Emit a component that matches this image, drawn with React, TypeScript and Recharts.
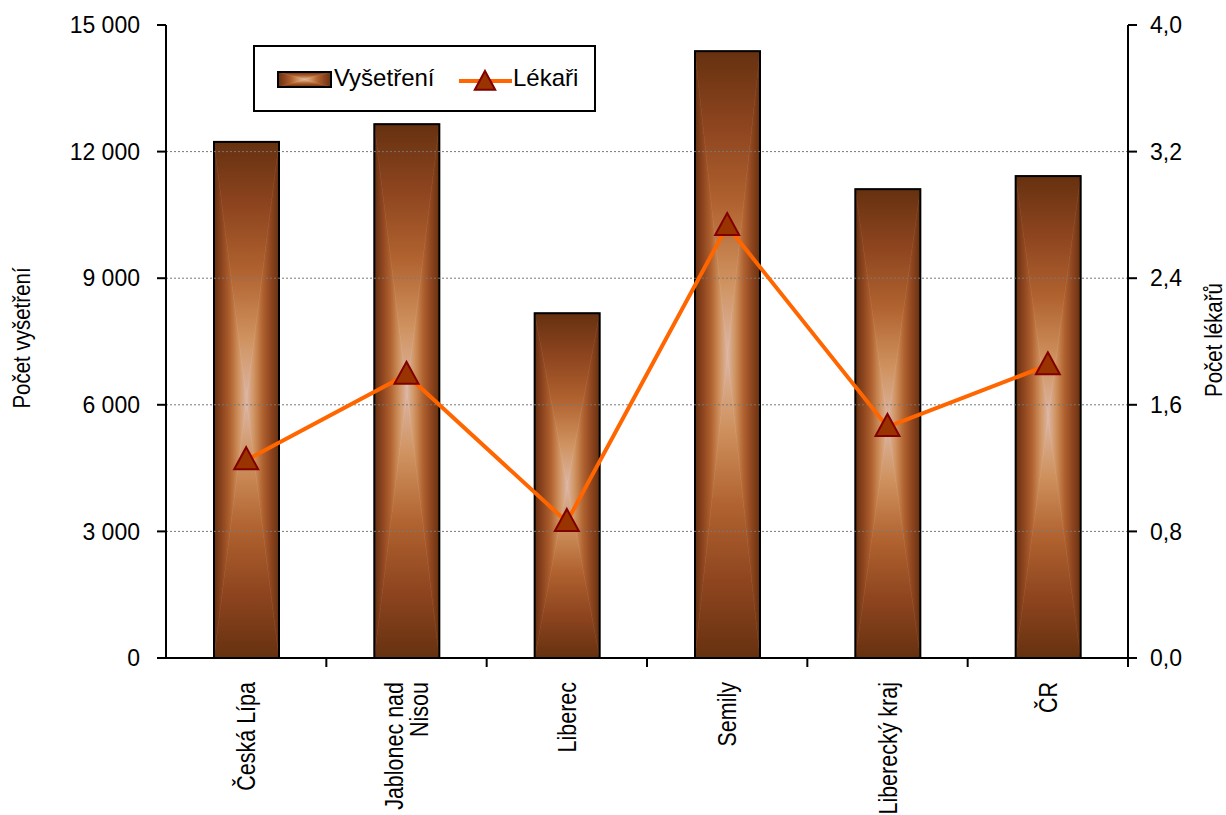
import React from 'react';
import { ComposedChart, Bar, Line, XAxis, YAxis, ReferenceLine } from 'recharts';

const categories = ['Česká Lípa', 'Jablonec nad Nisou', 'Liberec', 'Semily', 'Liberecký kraj', 'ČR'];
const categoryLines = [['Česká Lípa'], ['Jablonec nad', 'Nisou'], ['Liberec'], ['Semily'], ['Liberecký kraj'], ['ČR']];
const vysetreni = [12230, 12650, 8170, 14380, 11110, 11420];
const lekari = [1.25, 1.79, 0.86, 2.73, 1.46, 1.85];
const leftTicks = [0, 3000, 6000, 9000, 12000, 15000];
const rightTicks = [0, 0.8, 1.6, 2.4, 3.2, 4.0];
const gridValues = [3000, 6000, 9000, 12000];

const data = categories.map((name, i) => ({ name, vysetreni: vysetreni[i], lekari: lekari[i] }));

const FONT = '"Liberation Sans", Arial, sans-serif';

const fmtLeft = (v: number) => String(v).replace(/\B(?=(\d{3})+(?!\d))/g, '\u00a0');
const fmtRight = (v: number) => v.toFixed(1).replace('.', ',');

// gradient stops, edge -> centre
const stops = [
  { o: 0, c: '#663110' },
  { o: 0.25, c: '#8e451f' },
  { o: 0.5, c: '#b0622f' },
  { o: 0.76, c: '#cf925f' },
  { o: 1, c: '#dcb6a4' },
];

const GradDefs = () => (
  <defs>
    {[
      ['gTop', 0, 0, 0, 1],
      ['gBottom', 0, 1, 0, 0],
      ['gLeft', 0, 0, 1, 0],
      ['gRight', 1, 0, 0, 0],
    ].map(([id, x1, y1, x2, y2]) => (
      <linearGradient key={id as string} id={id as string} x1={x1 as number} y1={y1 as number} x2={x2 as number} y2={y2 as number}>
        {stops.map((s) => (
          <stop key={s.o} offset={s.o} stopColor={s.c} />
        ))}
      </linearGradient>
    ))}
  </defs>
);

// rectangle "from centre" gradient built out of four triangles
const GradRect = ({ x, y, width, height, sw = 2 }: any) => {
  if (!height || height <= 0) return null;
  const cx = x + width / 2;
  const cy = y + height / 2;
  const parts = [
    { d: `M${x},${y}L${x + width},${y}L${cx},${cy}Z`, f: 'url(#gTop)' },
    { d: `M${x},${y + height}L${x + width},${y + height}L${cx},${cy}Z`, f: 'url(#gBottom)' },
    { d: `M${x},${y}L${x},${y + height}L${cx},${cy}Z`, f: 'url(#gLeft)' },
    { d: `M${x + width},${y}L${x + width},${y + height}L${cx},${cy}Z`, f: 'url(#gRight)' },
  ];
  return (
    <g>
      {parts.map((p, i) => (
        <path key={i} d={p.d} fill={p.f} stroke={p.f} strokeWidth={0.6} />
      ))}
      <rect x={x} y={y} width={width} height={height} fill="none" stroke="#000" strokeWidth={sw} />
    </g>
  );
};

const Triangle = ({ cx, cy, s = 1 }: { cx: number; cy: number; s?: number }) => (
  <path
    d={`M${cx},${cy - 13 * s}L${cx + 12 * s},${cy + 9 * s}L${cx - 12 * s},${cy + 9 * s}Z`}
    fill="#993300"
    stroke="#800000"
    strokeWidth={2}
  />
);

const LeftTick = ({ x, y, payload }: any) => (
  <text x={x} y={y} dy="0.36em" textAnchor="end" fontSize={23} fontFamily={FONT} fill="#000">
    {fmtLeft(payload.value)}
  </text>
);

const RightTick = ({ x, y, payload }: any) => (
  <text x={x} y={y} dy="0.36em" textAnchor="start" fontSize={23} fontFamily={FONT} fill="#000">
    {fmtRight(payload.value)}
  </text>
);

const CatTick = ({ x, y, payload, index }: any) => {
  const lines = categoryLines[index] || [payload.value];
  const half = payload.offset || 0;
  const lh = 21;
  return (
    <g>
      <line x1={x + half} y1={y - 8} x2={x + half} y2={y + 1} stroke="#000" strokeWidth={2} />
      <g transform={`translate(${x},${y + 16}) rotate(-90) scale(1,1.2)`}>
        {lines.map((t: string, i: number) => (
          <text
            key={i}
            x={0}
            y={(i - (lines.length - 1) / 2) * lh}
            dy="0.36em"
            textAnchor="end"
            fontSize={21.5}
            fontFamily={FONT}
            fill="#000"
          >
            {t}
          </text>
        ))}
      </g>
    </g>
  );
};

export default function App() {
  return (
    <div style={{ position: 'absolute', left: 0, top: 0, width: 1226, height: 815, background: '#fff' }}>
      <ComposedChart
        width={1226}
        height={815}
        data={data}
        margin={{ top: 25, right: 0, bottom: 0, left: 0 }}
        barSize={65}
      >
        <GradDefs />
        <XAxis
          dataKey="name"
          xAxisId="x"
          height={157}
          interval={0}
          axisLine={{ stroke: '#000', strokeWidth: 2 }}
          tickLine={false}
          tick={<CatTick />}
        />
        <YAxis
          yAxisId="left"
          width={166}
          domain={[0, 15000]}
          ticks={leftTicks}
          interval={0}
          tickSize={9}
          tickMargin={17}
          axisLine={{ stroke: '#000', strokeWidth: 2 }}
          tickLine={{ stroke: '#000', strokeWidth: 2 }}
          tick={<LeftTick />}
        />
        <YAxis
          yAxisId="right"
          orientation="right"
          width={98}
          domain={[0, 4]}
          ticks={rightTicks}
          interval={0}
          tickSize={9}
          tickMargin={13}
          axisLine={{ stroke: '#000', strokeWidth: 2 }}
          tickLine={{ stroke: '#000', strokeWidth: 2 }}
          tick={<RightTick />}
        />
        {gridValues.map((v) => (
          <ReferenceLine key={v} y={v} xAxisId="x" yAxisId="left" stroke="#777" strokeWidth={1} strokeDasharray="2 2" />
        ))}
        <Bar
          dataKey="vysetreni"
          xAxisId="x"
          yAxisId="left"
          isAnimationActive={false}
          shape={(p: any) => <GradRect {...p} />}
        />
        <Line
          dataKey="lekari"
          xAxisId="x"
          yAxisId="right"
          stroke="#ff6600"
          strokeWidth={4}
          isAnimationActive={false}
          dot={(p: any) => <Triangle key={p.index} cx={p.cx} cy={p.cy} />}
          activeDot={false}
        />
      </ComposedChart>

      <svg width={1226} height={815} style={{ position: 'absolute', left: 0, top: 0, pointerEvents: 'none' }}>
        <text transform="translate(30,338) rotate(-90) scale(1,1.15)" textAnchor="middle" fontSize={20.5} fontFamily={FONT} fill="#000">
          Počet vyšetření
        </text>
        <text transform="translate(1222,340) rotate(-90) scale(1,1.15)" textAnchor="middle" fontSize={20.5} fontFamily={FONT} fill="#000">
          Počet lékařů
        </text>
      </svg>

      <div
        style={{
          position: 'absolute',
          left: 253,
          top: 45,
          width: 339,
          height: 63,
          border: '2px solid #000',
          background: '#fff',
          fontFamily: FONT,
          fontSize: 24,
        }}
      >
        <svg width={60} height={24} style={{ position: 'absolute', left: 22, top: 21 }}>
          <GradDefs />
          <GradRect x={1} y={4} width={53} height={15} sw={2} />
        </svg>
        <div style={{ position: 'absolute', left: 79, top: 17, lineHeight: '28px' }}>Vyšetření</div>
        <svg width={60} height={30} style={{ position: 'absolute', left: 202, top: 18 }}>
          <line x1={2} y1={16} x2={55} y2={16} stroke="#ff6600" strokeWidth={4} />
          <Triangle cx={28} cy={17} s={0.85} />
        </svg>
        <div style={{ position: 'absolute', left: 258, top: 17, lineHeight: '28px' }}>Lékaři</div>
      </div>
    </div>
  );
}
